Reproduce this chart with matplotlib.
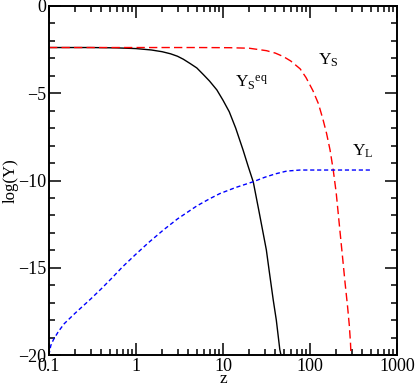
import numpy as np
import matplotlib
matplotlib.use("Agg")
import matplotlib.pyplot as plt
from matplotlib.ticker import MultipleLocator, LogLocator, NullFormatter, FixedLocator, FixedFormatter

plt.rcParams["font.family"] = ["Liberation Serif", "DejaVu Serif"]
plt.rcParams["mathtext.fontset"] = "custom"
plt.rcParams["mathtext.rm"] = "Liberation Serif"
plt.rcParams["mathtext.it"] = "Liberation Serif:italic"

# Y_S^eq (black solid)
z_eq = [0.1, 0.3, 0.6, 1.0, 1.5, 2.0, 2.5, 3.0, 3.5, 4.2, 5.0, 6.0, 7.0, 8.5, 10,
        11.8, 14, 17, 19.5, 22.3, 26, 31.5, 34, 37.8, 41, 45, 46.4]
y_eq = [-2.38, -2.38, -2.40, -2.44, -2.52, -2.62, -2.74, -2.88, -3.05, -3.30, -3.55, -3.95, -4.3, -4.81, -5.4,
        -6.06, -7.0, -8.25, -9.2, -10.09, -11.8, -13.98, -15.2, -16.85, -18.0, -19.7, -20]

# Y_S (red dashed)
z_s = [0.1, 5, 12, 20, 31.6, 40, 49.5, 60, 77, 90, 108, 125, 141, 155, 170, 185,
       200, 221, 240, 253, 270, 283, 292, 296]
y_s = [-2.38, -2.38, -2.39, -2.42, -2.56, -2.7, -2.9, -3.15, -3.6, -4.1, -4.85, -5.6, -6.5, -7.3, -8.25, -9.4,
       -10.7, -12.9, -14.7, -15.87, -17.2, -18.3, -19.3, -20]

# Y_L (blue dashed)
z_l = [0.1, 0.101, 0.105, 0.112, 0.128, 0.15, 0.2, 0.3, 0.4, 0.526, 0.7, 0.974, 1.4, 2.06, 3.0,
       4.99, 7, 9.2, 14, 22.3, 30, 40, 54, 77, 500]
y_l = [-20, -19.85, -19.45, -19.14, -18.66, -18.2, -17.6, -16.8, -16.2, -15.6, -14.95, -14.27, -13.55, -12.84, -12.2,
       -11.46, -11.05, -10.75, -10.4, -10.07, -9.82, -9.62, -9.46, -9.4, -9.4]

xticks = [0.1, 1, 10, 100, 1000]
xticklabels = ["0.1", "1", "10", "100", "1000"]

fig = plt.figure(figsize=(4.15, 3.87), dpi=100)
ax = fig.add_axes([49 / 415, 32 / 387, 348 / 415, 349 / 387])

ax.plot(z_eq, y_eq, color="black", lw=1.0)
ax.plot(z_s, y_s, color="red", lw=1.0, dashes=(6, 3))
ax.plot(z_l, y_l, color="blue", lw=1.0, dashes=(3, 2))

ax.set_xscale("log")
ax.set_xlim(0.1, 1000)
ax.set_ylim(-20, 0)
ax.xaxis.set_major_locator(FixedLocator(xticks))
ax.xaxis.set_major_formatter(FixedFormatter(xticklabels))
ax.xaxis.set_minor_locator(LogLocator(base=10, subs=np.arange(2, 10)))
ax.xaxis.set_minor_formatter(NullFormatter())
ax.yaxis.set_major_locator(MultipleLocator(5))
ax.yaxis.set_minor_locator(MultipleLocator(1))

for s in ax.spines.values():
    s.set_linewidth(1.4)
ax.tick_params(which="both", direction="in", top=True, right=True, width=1.1, labelsize=13)
ax.tick_params(which="major", length=8.5, pad=2)
ax.tick_params(which="minor", length=4.3)

ax.set_xlabel("z", fontsize=12.5, labelpad=-2.5)
ax.set_ylabel("log(Y)", fontsize=12)
ax.yaxis.set_label_coords(-0.088, 0.5)

ax.text(13.7, -4.64, r"${\mathrm{Y}_\mathrm{S}}^\mathrm{eq}$", fontsize=12.5, va="baseline")
ax.text(124, -3.38, r"$\mathrm{Y}_\mathrm{S}$", fontsize=12.5, va="baseline")
ax.text(304, -8.6, r"$\mathrm{Y}_\mathrm{L}$", fontsize=12.5, va="baseline")

fig.savefig("out.png", dpi=100)
